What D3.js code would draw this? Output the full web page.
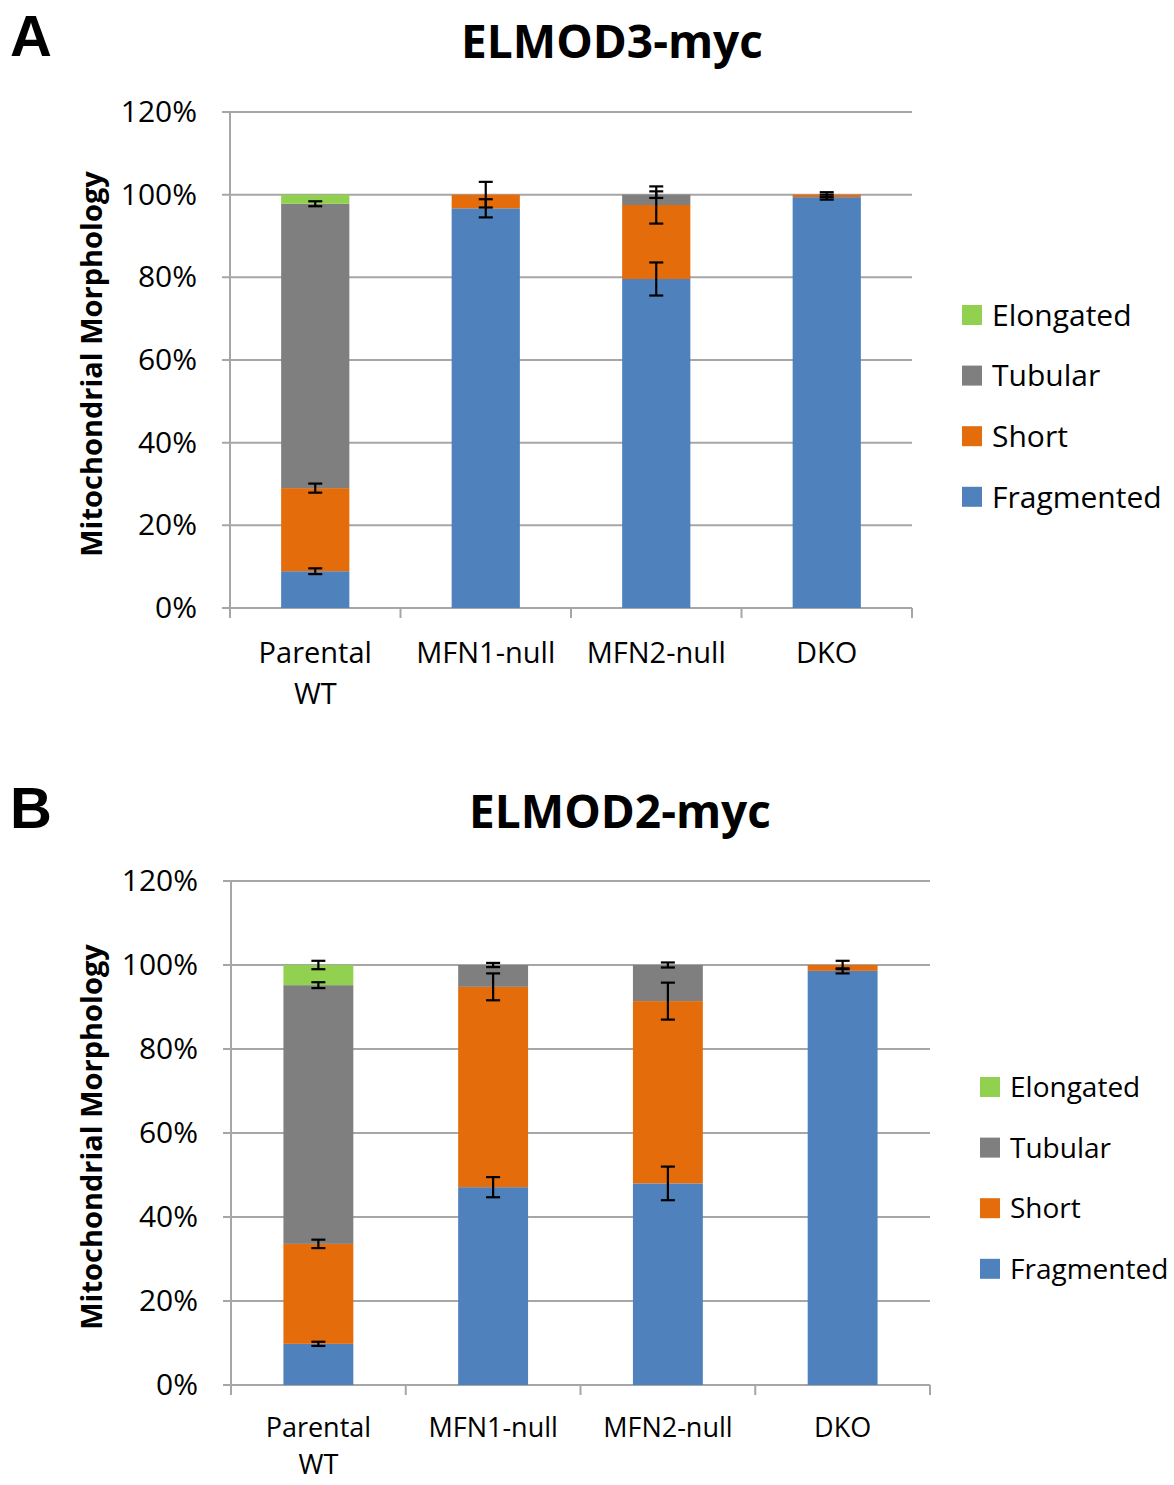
<!DOCTYPE html>
<html>
<head>
<meta charset="utf-8">
<script src="https://cdn.jsdelivr.net/npm/d3@7/dist/d3.min.js"></script>
<style>
  html, body { margin: 0; padding: 0; background: #fff; }
  svg { display: block; }
  text { font-family: "Open Sans", "Noto Sans", sans-serif; fill: #000; }
</style>
</head>
<body>
<script>
// ---------- DATA ----------
const categories = ["Parental WT", "MFN1-null", "MFN2-null", "DKO"];
const categoryLines = [["Parental", "WT"], ["MFN1-null"], ["MFN2-null"], ["DKO"]];
const seriesKeys = ["Fragmented", "Short", "Tubular", "Elongated"];
const legendOrder = ["Elongated", "Tubular", "Short", "Fragmented"];
const yTickValues = [0, 0.2, 0.4, 0.6, 0.8, 1.0, 1.2];

// Panel A: ELMOD3-myc (percent)
const fragmentedA = [8.9, 96.7, 79.6, 99.4];
const shortA      = [20.1, 3.3, 17.9, 0.6];
const tubularA    = [68.8, 0, 2.5, 0];
const elongatedA  = [2.2, 0, 0, 0];
const fragmentedErrA = [0.7, 2.2, 4.0, 0.6];
const shortErrA      = [1.1, 3.1, 4.5, 0.6];
const tubularErrA    = [0.6, 0, 0.8, 0];
const elongatedErrA  = [0, 0, 0, 0];

// Panel B: ELMOD2-myc (percent)
const fragmentedB = [9.8, 47.1, 48.0, 98.6];
const shortB      = [23.8, 47.7, 43.4, 1.4];
const tubularB    = [61.6, 5.2, 8.6, 0];
const elongatedB  = [4.8, 0, 0, 0];
const fragmentedErrB = [0.5, 2.4, 4.0, 0.6];
const shortErrB      = [1.0, 3.2, 4.4, 1.0];
const tubularErrB    = [0.7, 0.5, 0.6, 0];
const elongatedErrB  = [1.0, 0, 0, 0];

const colors = {
  Fragmented: "#4f81bd",
  Short: "#e46c0a",
  Tubular: "#7f7f7f",
  Elongated: "#92d050"
};
const gridColor = "#a6a6a6";

// ---------- DRAW ----------
const W = 1174, H = 1485;
const svg = d3.select("body").append("svg").attr("width", W).attr("height", H);

function drawPanel(p) {
  const g = svg.append("g");
  const values = { Fragmented: p.frag, Short: p.short, Tubular: p.tub, Elongated: p.elong };
  const errs = { Fragmented: p.fragErr, Short: p.shortErr, Tubular: p.tubErr, Elongated: p.elongErr };
  const rows = categories.map((c, i) => {
    const r = { category: c };
    seriesKeys.forEach(k => r[k] = values[k][i] / 100);
    return r;
  });
  const stacked = d3.stack().keys(seriesKeys)(rows);

  const y = d3.scaleLinear().domain([0, 1.2]).range([p.bottom, p.top]);
  const x = d3.scaleBand().domain(categories).range([p.left, p.right])
    .paddingInner(0.6).paddingOuter(0.3);
  const step = x.step();

  // gridlines + y ticks
  g.append("g").selectAll("line").data(yTickValues).join("line")
    .attr("x1", p.left - 8).attr("x2", p.right)
    .attr("y1", d => y(d)).attr("y2", d => y(d))
    .attr("stroke", gridColor).attr("stroke-width", 2);

  // y axis line
  g.append("line").attr("x1", p.left).attr("x2", p.left)
    .attr("y1", y(1.2)).attr("y2", y(0) + 10)
    .attr("stroke", gridColor).attr("stroke-width", 2);

  // x axis boundary ticks
  g.append("g").selectAll("line").data(d3.range(categories.length + 1)).join("line")
    .attr("x1", i => p.left + i * step).attr("x2", i => p.left + i * step)
    .attr("y1", y(0)).attr("y2", y(0) + 10)
    .attr("stroke", gridColor).attr("stroke-width", 2);

  // y tick labels
  g.append("g").selectAll("text").data(yTickValues).join("text")
    .attr("x", p.left - 33).attr("y", d => y(d))
    .attr("dy", "0.33em")
    .attr("text-anchor", "end")
    .attr("font-size", 30)
    .attr("fill", "#222")
    .text(d => d3.format(".0%")(d));

  // bars
  g.append("g").selectAll("g").data(stacked).join("g")
    .attr("fill", d => colors[d.key])
    .selectAll("rect").data(d => d).join("rect")
    .attr("x", d => x(d.data.category))
    .attr("width", x.bandwidth())
    .attr("y", d => y(d[1]))
    .attr("height", d => Math.max(0, y(d[0]) - y(d[1])));

  // error bars
  const eb = [];
  stacked.forEach(layer => {
    layer.forEach((d, i) => {
      const e = errs[layer.key][i] / 100;
      if (e > 0) eb.push({ cx: x(d.data.category) + x.bandwidth() / 2, top: d[1], e });
    });
  });
  const ebg = g.append("g").attr("stroke", "#000").attr("stroke-width", 2.2);
  ebg.selectAll("line.v").data(eb).join("line").attr("class", "v")
    .attr("x1", d => d.cx).attr("x2", d => d.cx)
    .attr("y1", d => y(d.top + d.e)).attr("y2", d => y(d.top - d.e));
  ebg.selectAll("line.c1").data(eb).join("line").attr("class", "c1")
    .attr("x1", d => d.cx - 7).attr("x2", d => d.cx + 7)
    .attr("y1", d => y(d.top + d.e)).attr("y2", d => y(d.top + d.e));
  ebg.selectAll("line.c2").data(eb).join("line").attr("class", "c2")
    .attr("x1", d => d.cx - 7).attr("x2", d => d.cx + 7)
    .attr("y1", d => y(d.top - d.e)).attr("y2", d => y(d.top - d.e));

  // category labels (one text element per line)
  const labelLines = [];
  categories.forEach((c, i) => {
    categoryLines[i].forEach((line, j) => labelLines.push({ c, line, j }));
  });
  g.append("g").selectAll("text").data(labelLines).join("text")
    .attr("text-anchor", "middle")
    .attr("font-size", p.labelFont)
    .attr("fill", "#222")
    .attr("x", d => x(d.c) + x.bandwidth() / 2)
    .attr("y", d => y(0) + p.labelOffset + d.j * p.labelGap)
    .text(d => d.line);

  // title
  g.append("text").attr("x", p.titleX).attr("y", p.titleY)
    .attr("text-anchor", "middle").attr("font-size", 46).attr("font-weight", 700)
    .text(p.title);

  // panel letter
  g.append("text").attr("x", 10).attr("y", p.letterY)
    .attr("font-size", 58).attr("font-weight", 700)
    .style("font-family", "'Liberation Sans', Arial, sans-serif")
    .text(p.letter);

  // y axis title
  g.append("text")
    .attr("transform", `translate(102, ${(y(0) + y(1.2)) / 2 + 4}) rotate(-90)`)
    .attr("text-anchor", "middle").attr("font-size", 29).attr("font-weight", 700)
    .attr("fill", "#222")
    .text("Mitochondrial Morphology");

  // legend
  const lg = g.append("g").selectAll("g").data(legendOrder).join("g")
    .attr("transform", (d, i) => `translate(${p.legendX}, ${p.legendY + i * 60.6})`);
  lg.append("rect").attr("x", 0).attr("y", -10).attr("width", 20).attr("height", 20)
    .attr("fill", d => colors[d]);
  lg.append("text").attr("x", 30).attr("y", 0).attr("dy", "0.36em")
    .attr("font-size", p.legendFont).attr("fill", "#222")
    .text(d => d);
}

drawPanel({
  title: "ELMOD3-myc", letter: "A",
  left: 230, right: 912, top: 112, bottom: 608,
  titleX: 612, titleY: 58, letterY: 56,
  labelOffset: 55, labelGap: 41, labelFont: 29,
  legendX: 962, legendY: 315, legendFont: 30,
  frag: fragmentedA, short: shortA, tub: tubularA, elong: elongatedA,
  fragErr: fragmentedErrA, shortErr: shortErrA, tubErr: tubularErrA, elongErr: elongatedErrA
});

drawPanel({
  title: "ELMOD2-myc", letter: "B",
  left: 231, right: 930, top: 881, bottom: 1385,
  titleX: 620, titleY: 828, letterY: 828,
  labelOffset: 52, labelGap: 37, labelFont: 27,
  legendX: 980, legendY: 1087, legendFont: 28,
  frag: fragmentedB, short: shortB, tub: tubularB, elong: elongatedB,
  fragErr: fragmentedErrB, shortErr: shortErrB, tubErr: tubularErrB, elongErr: elongatedErrB
});
</script>
</body>
</html>
